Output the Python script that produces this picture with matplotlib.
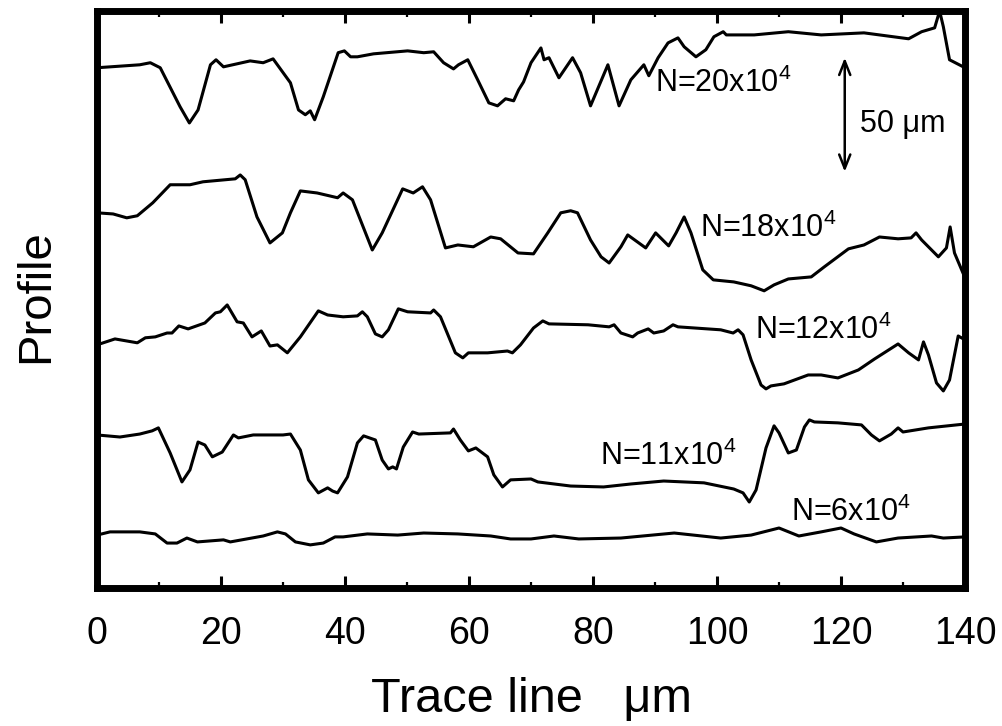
import matplotlib
matplotlib.use("Agg")
import matplotlib.pyplot as plt
from matplotlib.ticker import MultipleLocator

plt.rcParams['font.family'] = ['Liberation Sans', 'DejaVu Sans']
plt.rcParams['mathtext.fontset'] = 'custom'
plt.rcParams['mathtext.rm'] = 'Liberation Sans'
plt.rcParams['mathtext.it'] = 'Liberation Sans:italic'

# Surface profiles along the trace line (x in um, height in um incl. offset)
x_20 = [0, 6.9, 8.6, 10.2, 13.4, 14.9, 16.3, 18.3, 19.2, 20.4, 24.7, 26.8, 28.4, 31.2, 32.5, 33.6, 34.4, 35.1,
        36.5, 38.9, 39.9, 40.9, 42.0, 44.6, 50.1, 52.7, 54.3, 55.9, 57.5, 58.3, 59.8, 61.4, 63.2, 64.6, 65.9,
        67.2, 68.0, 68.8, 70.0, 71.6, 72.1, 72.9, 74.5, 76.7, 78.0, 79.6, 82.4, 84.2, 86.1, 88.2, 89.0, 90.5,
        92.1, 93.7, 94.7, 96.6, 98.2, 99.5, 101.0, 101.5, 106.0, 111.5, 116.8, 123.7, 130.9, 133.0, 135.1,
        135.9, 136.5, 137.5, 140.0]
y_20 = [228.1, 229.4, 230.3, 228.1, 211.0, 203.9, 209.6, 229.4, 231.6, 228.5, 231.1, 230.3, 232.0, 221.5,
        209.6, 207.5, 209.2, 205.3, 215.4, 234.7, 235.5, 232.9, 232.9, 234.2, 235.5, 234.7, 235.1, 230.3,
        227.6, 229.4, 231.6, 222.8, 212.7, 211.4, 214.5, 213.6, 218.4, 221.9, 230.3, 236.8, 231.6, 232.5,
        223.7, 232.5, 225.9, 211.4, 229.4, 211.4, 222.8, 229.4, 224.6, 232.5, 239.0, 241.2, 237.3, 232.9,
        236.0, 241.7, 243.9, 242.5, 242.5, 243.9, 242.5, 243.4, 240.8, 243.9, 245.6, 253.0, 246.1, 231.6, 228.1]

x_18 = [0, 2.6, 4.8, 6.5, 9.0, 11.8, 15.0, 17.1, 22.3, 23.1, 23.9, 25.8, 27.9, 29.9, 31.2, 32.8, 35.5, 38.8,
        39.7, 41.2, 44.4, 46.0, 49.3, 51.0, 52.5, 53.8, 56.2, 58.2, 60.7, 63.5, 65.1, 67.9, 70.4, 72.7, 74.8,
        76.4, 77.5, 79.6, 81.3, 82.6, 84.5, 85.6, 88.5, 90.1, 92.2, 93.4, 94.7, 95.8, 97.7, 99.4, 102.7, 105.5,
        107.6, 109.2, 111.5, 115.2, 117.3, 121.2, 123.7, 126.2, 129.2, 131.3, 132.1, 133.0, 135.7, 137.0,
        137.6, 138.3, 140.0]
y_18 = [164.5, 164.0, 162.3, 163.2, 168.9, 176.8, 176.8, 178.1, 179.4, 181.1, 179.0, 162.7, 151.3, 155.7,
        164.5, 174.1, 173.2, 171.1, 173.2, 170.2, 148.2, 155.7, 175.0, 173.2, 175.9, 170.2, 149.1, 150.4,
        149.6, 153.9, 153.1, 146.9, 146.5, 155.7, 164.5, 165.4, 164.5, 152.6, 145.2, 142.5, 149.6, 154.8,
        149.1, 155.7, 150.0, 155.7, 162.7, 155.7, 139.5, 135.1, 134.2, 132.5, 130.3, 132.9, 135.5, 136.4,
        140.8, 148.7, 150.4, 153.9, 153.1, 153.5, 155.7, 152.6, 145.2, 149.1, 158.3, 146.9, 136.0]

x_12 = [0, 2.9, 6.5, 7.8, 9.4, 11.3, 12.1, 13.2, 14.7, 17.4, 19.1, 19.9, 21.0, 22.6, 23.6, 25.0, 26.5, 27.9,
        29.1, 30.7, 32.8, 35.7, 37.2, 39.7, 42.0, 42.8, 43.6, 44.9, 46.0, 47.0, 48.6, 50.1, 53.8, 54.3, 55.4,
        57.8, 59.0, 59.9, 63.0, 66.2, 67.0, 68.3, 70.4, 71.9, 72.9, 79.2, 82.6, 83.4, 84.5, 86.4, 87.2, 88.9,
        89.8, 91.4, 92.9, 93.7, 100.6, 102.6, 103.4, 104.2, 105.5, 107.1, 107.9, 108.7, 110.8, 114.7, 116.8,
        119.5, 122.8, 125.4, 129.2, 130.9, 132.5, 133.3, 134.1, 135.4, 136.5, 137.5, 138.9, 140.0]
y_12 = [106.6, 109.2, 107.5, 109.7, 110.1, 111.8, 111.8, 114.9, 113.6, 116.2, 120.6, 121.1, 124.1, 116.7,
        116.2, 110.1, 112.7, 106.1, 106.6, 103.1, 110.1, 121.5, 119.7, 118.9, 119.3, 121.1, 118.9, 111.4,
        110.1, 113.2, 122.4, 121.1, 120.6, 121.9, 118.9, 103.1, 100.9, 103.1, 103.1, 103.9, 103.1, 106.6,
        114.0, 117.1, 115.8, 115.4, 114.5, 115.4, 111.8, 110.1, 111.8, 113.6, 111.8, 112.7, 115.4, 114.5,
        113.2, 111.8, 113.2, 111.0, 100.0, 89.0, 87.3, 88.6, 89.5, 93.4, 93.4, 92.1, 95.6, 100.4, 107.0,
        103.1, 100.0, 107.9, 102.2, 89.9, 86.4, 91.2, 110.5, 108.8]

x_11 = [0, 3.7, 6.9, 8.9, 9.9, 11.8, 13.7, 15.0, 16.3, 17.4, 18.6, 20.2, 22.0, 22.8, 25.2, 30.0, 31.2, 32.8,
        34.1, 35.7, 37.2, 38.0, 38.8, 40.4, 42.0, 43.0, 44.9, 46.0, 47.0, 47.7, 48.3, 49.4, 50.9, 51.9, 57.0,
        57.5, 58.6, 59.9, 61.1, 63.0, 64.0, 65.4, 66.7, 70.0, 71.1, 76.4, 81.7, 86.1, 91.4, 97.9, 102.7,
        104.2, 105.2, 106.3, 107.9, 109.2, 110.0, 111.5, 112.8, 114.1, 114.9, 115.7, 119.5, 123.3, 124.9,
        126.2, 128.1, 129.2, 130.0, 134.1, 140.0]
y_11 = [67.1, 66.2, 67.5, 68.9, 70.2, 59.2, 46.5, 51.8, 64.0, 62.7, 57.5, 59.6, 67.1, 65.8, 67.1, 67.1, 67.5,
        60.5, 47.4, 41.7, 43.9, 42.5, 41.7, 48.7, 63.6, 66.7, 64.9, 56.1, 52.2, 53.1, 52.2, 61.8, 68.4, 67.5,
        68.0, 69.7, 64.9, 60.1, 61.4, 57.5, 49.6, 44.3, 47.4, 47.8, 46.5, 44.7, 44.3, 45.6, 46.9, 46.1, 43.4,
        41.7, 37.7, 43.0, 61.4, 71.1, 68.0, 59.2, 60.5, 70.6, 73.7, 72.8, 72.4, 71.5, 67.1, 64.5, 67.5, 70.2,
        68.4, 70.2, 71.9]

x_6 = [0, 2.1, 6.9, 9.4, 11.3, 12.9, 14.5, 16.2, 20.4, 21.5, 26.8, 29.1, 30.4, 32.0, 34.4, 36.5, 38.4, 39.7,
       43.6, 48.5, 52.7, 58.2, 63.5, 66.7, 70.0, 73.7, 77.7, 84.5, 93.1, 100.6, 105.5, 110.0, 113.2, 116.8,
       120.0, 122.1, 125.7, 129.2, 134.6, 136.5, 140.0]
y_6 = [23.2, 24.6, 24.6, 23.7, 19.7, 19.7, 21.9, 20.2, 21.1, 20.2, 22.8, 24.6, 23.7, 20.2, 18.9, 19.7, 22.4,
       22.4, 23.7, 23.2, 24.1, 23.7, 22.8, 21.5, 21.5, 22.8, 21.5, 21.9, 24.1, 21.9, 23.2, 26.3, 22.8, 24.6,
       26.3, 23.7, 20.2, 21.9, 22.8, 21.9, 22.4]

profiles = [(x_20, y_20), (x_18, y_18), (x_12, y_12), (x_11, y_11), (x_6, y_6)]

# cycle labels and where they sit
labels = ['N=20x10$^{\\mathrm{4}}$', 'N=18x10$^{\\mathrm{4}}$', 'N=12x10$^{\\mathrm{4}}$',
          'N=11x10$^{\\mathrm{4}}$', 'N=6x10$^{\\mathrm{4}}$']
label_x = [90.0, 97.3, 106.1, 81.1, 111.9]
label_y = [217.5, 153.9, 109.2, 53.9, 29.4]

# 50 um scale bar
bar_x = 120.6
bar_y0 = 182.5
bar_len = 50

fig = plt.figure(figsize=(10.02, 7.26), dpi=100)
ax = fig.add_axes([0.0968, 0.1901, 0.8663, 0.7948])

for xs, ys in profiles:
    ax.plot(xs, ys, color='black', lw=2.2, solid_joinstyle='round', solid_capstyle='round')

for txt, lx, ly in zip(labels, label_x, label_y):
    ax.text(lx, ly, txt, fontsize=22, ha='left', va='baseline')

ax.annotate('', xy=(bar_x, bar_y0 + bar_len), xytext=(bar_x, bar_y0),
            arrowprops=dict(arrowstyle='<->,head_length=1.0,head_width=0.4', color='black', lw=1.8,
                            shrinkA=0, shrinkB=0))
ax.text(123.1, 200.0, '50 \u03bcm', fontsize=22, ha='left', va='baseline')

ax.set_xlim(0, 140)
ax.set_ylim(0, 253)
ax.xaxis.set_major_locator(MultipleLocator(20))
ax.xaxis.set_minor_locator(MultipleLocator(10))
ax.set_yticks([])
ax.tick_params(axis='x', which='both', direction='in', top=True, bottom=True, labelsize=27, pad=20)
ax.tick_params(axis='x', which='major', length=8.5, width=2.2)
ax.tick_params(axis='x', which='minor', length=4.5, width=1.6)
for sp in ax.spines.values():
    sp.set_linewidth(5)

ax.set_xlabel('Trace line   \u03bcm', fontsize=35)
ax.xaxis.set_label_coords(0.5, -0.155)
ax.set_ylabel('Profile', fontsize=34)
ax.yaxis.set_label_coords(-0.045, 0.505)

fig.savefig('out.png', dpi=100)
